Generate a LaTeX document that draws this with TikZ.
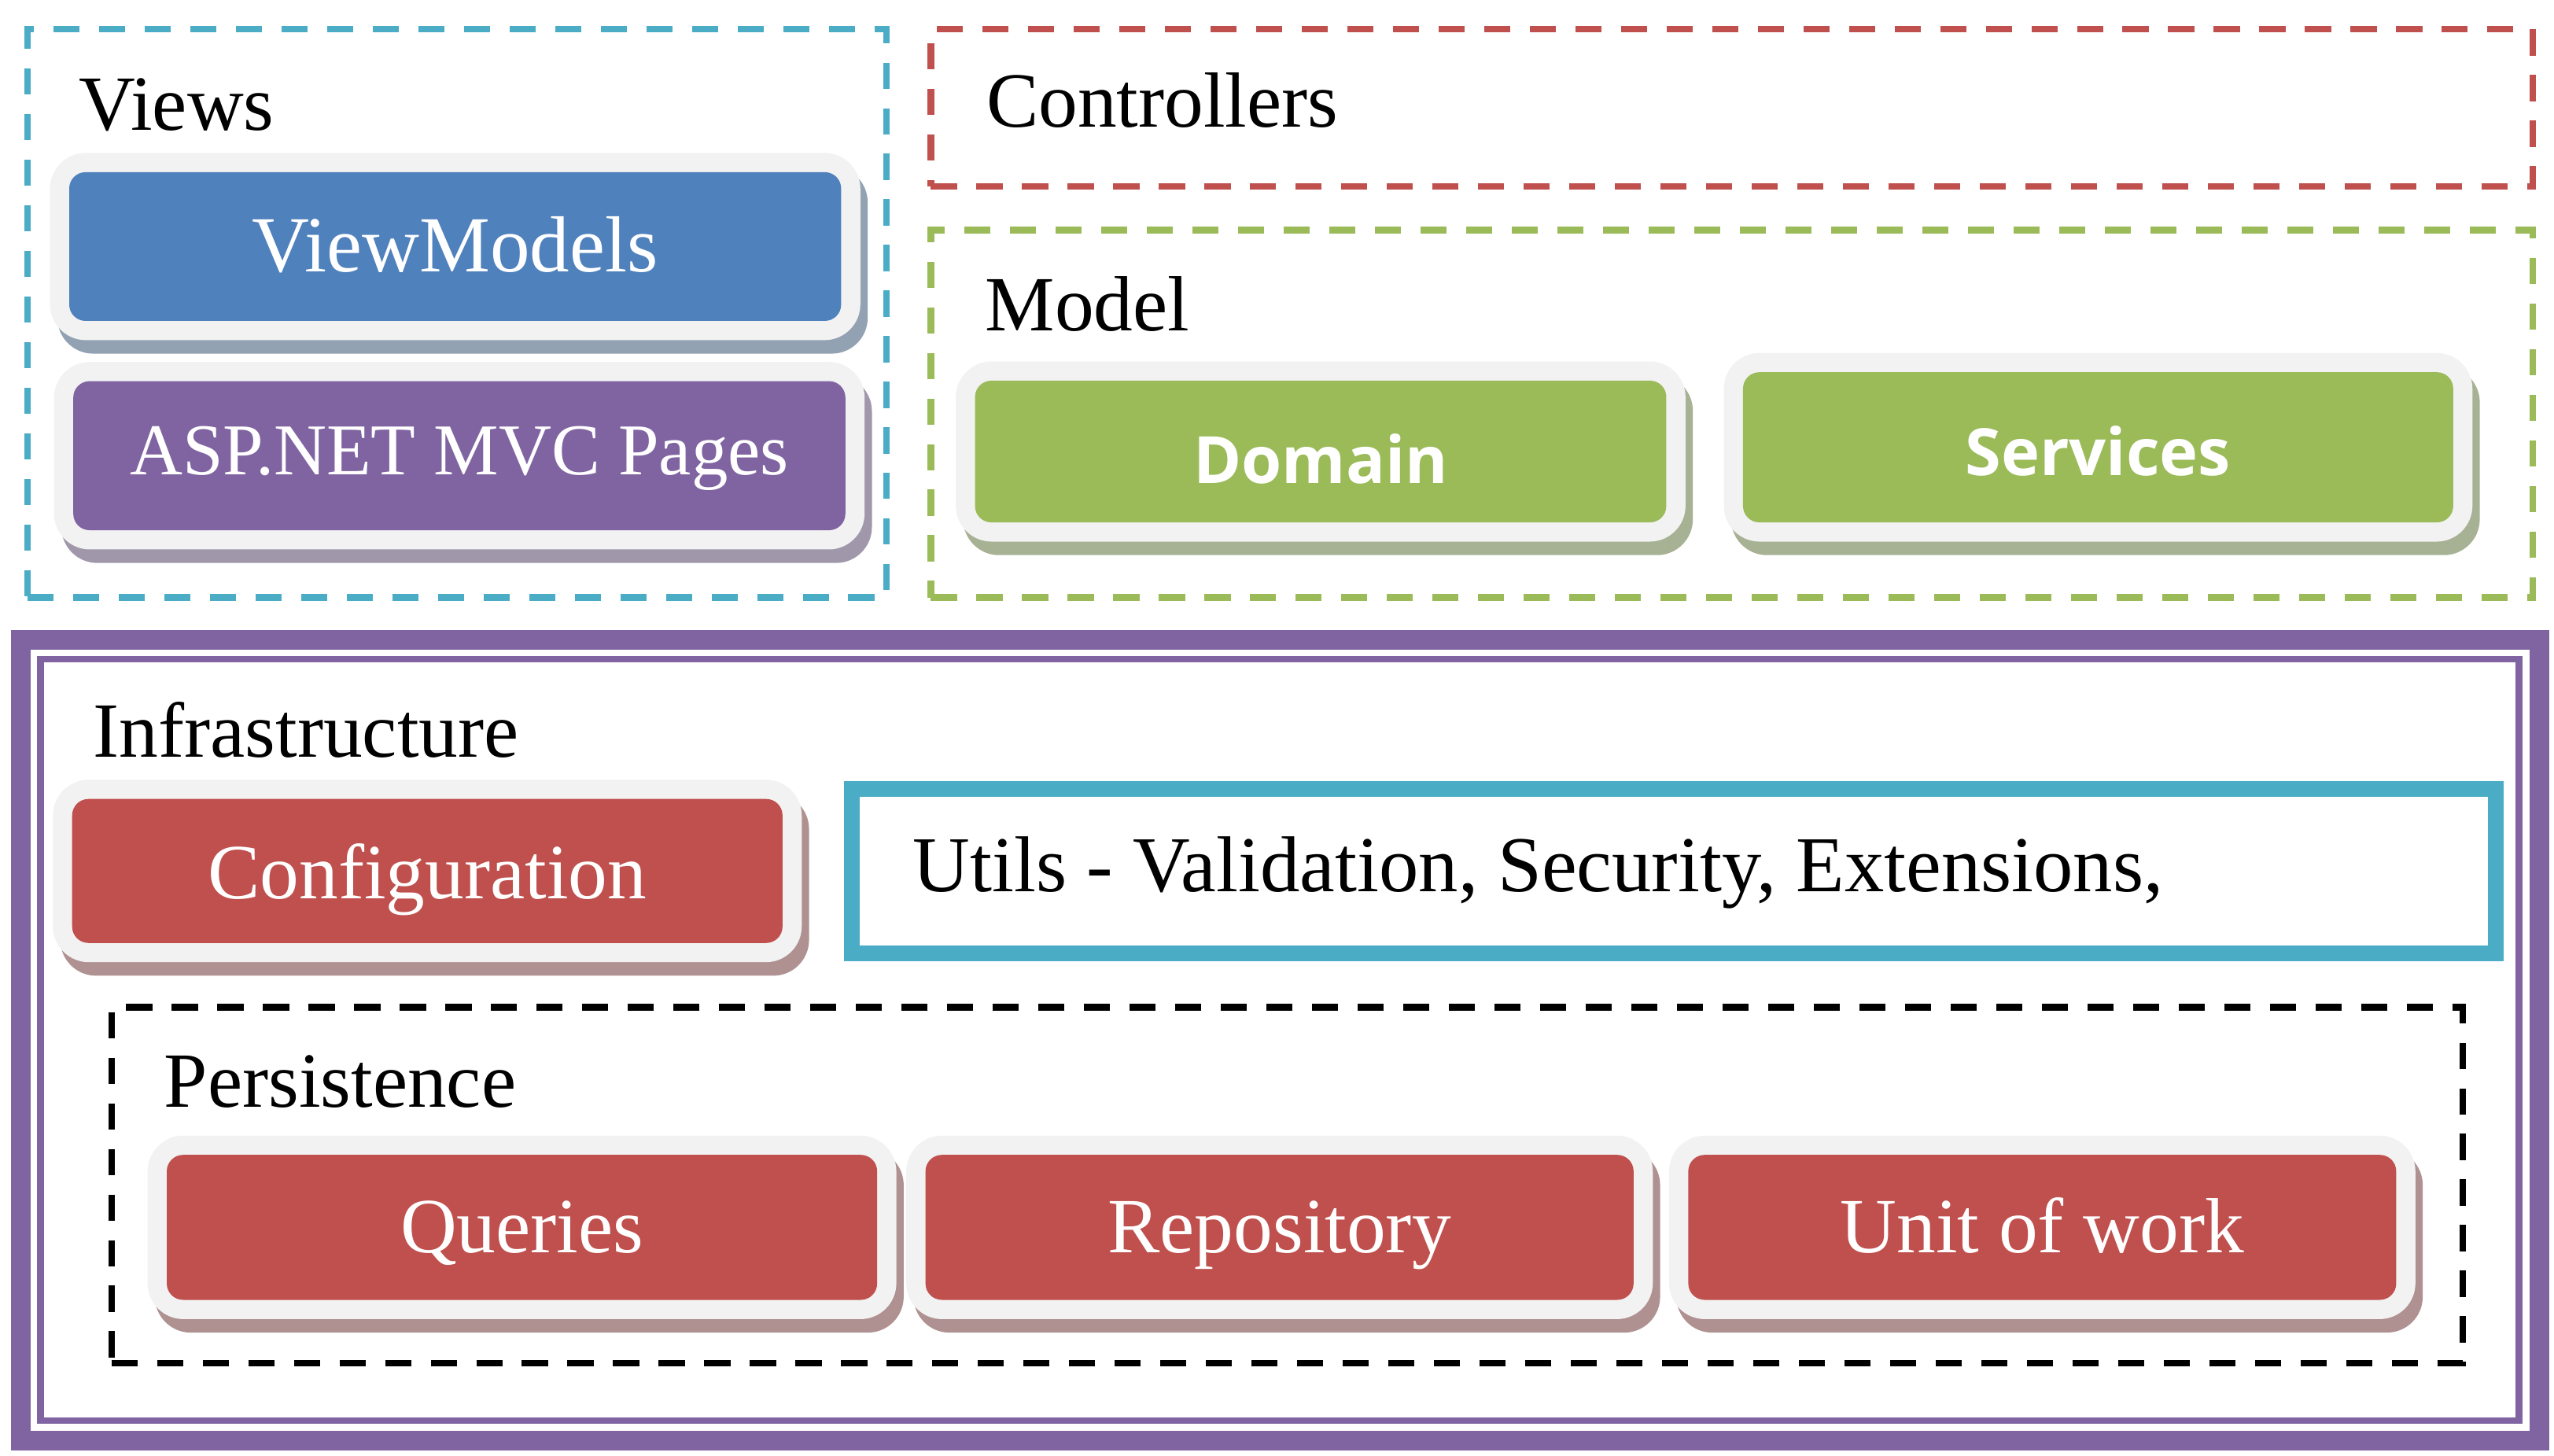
\documentclass[tikz,border=0pt]{standalone}
\usepackage{fontspec}
\setmainfont{Liberation Serif}
\newfontfamily\osans{Open Sans}
\usetikzlibrary{fit,backgrounds}
\definecolor{cyanC}{HTML}{4BACC6}
\definecolor{redC}{HTML}{C0504D}
\definecolor{greenC}{HTML}{9BBB59}
\definecolor{blueC}{HTML}{4F81BD}
\definecolor{purpleC}{HTML}{8064A2}
\definecolor{grayF}{HTML}{F2F2F2}
\definecolor{blueSh}{HTML}{93A2B3}
\definecolor{purpleSh}{HTML}{A097AB}
\definecolor{greenSh}{HTML}{A7B194}
\definecolor{redSh}{HTML}{B09191}
\tikzset{
  lbl/.style={anchor=base west, inner sep=0pt, outer sep=0pt, font=\fontsize{48}{50}\selectfont},
  btxt/.style={anchor=base, inner sep=0pt, outer sep=0pt, text=white, font=\fontsize{48}{50}\selectfont},
  stxt/.style={anchor=base, inner sep=0pt, outer sep=0pt, text=white, font=\osans\bfseries\fontsize{40}{42}\selectfont},
  dashbox/.style={line width=4pt, dash pattern=on 16pt off 12pt},
}
\newcommand{\mkbtn}[7]{%
  \node[fit={(#2,#3) (#4,#5)}, inner sep=0pt, outer sep=0pt, rounded corners=10pt, fill=#6] (#1) {};
  \begin{pgfonlayer}{background}
    \node[fit=(#1), inner sep=11.8pt, rounded corners=22pt, fill=#7, xshift=4.5pt, yshift=-8.3pt] (#1-sh) {};
    \node[fit=(#1), inner sep=11.8pt, rounded corners=22pt, fill=grayF] (#1-fr) {};
  \end{pgfonlayer}}
\begin{document}
\begin{tikzpicture}[x=1pt, y=-1pt]
\begin{pgfonlayer}{background}
  \fill[white] (0,0) rectangle (1568,893.85);
\end{pgfonlayer}
\useasboundingbox (0,0) rectangle (1568,893.85);

% top groups
\node[draw=cyanC, dashbox, fit={(16.8,18) (544.4,366.8)}, inner sep=0pt] (views) {};
\node[draw=redC, dashbox, fit={(571.5,18) (1555,114.6)}, inner sep=0pt] (controllers) {};
\node[draw=greenC, dashbox, fit={(571.5,141.2) (1555,366.8)}, inner sep=0pt] (model) {};

\node[lbl] (views-t) at (48.5,80) {Views};
\node[lbl] (controllers-t) at (605.6,78) {Controllers};
\node[lbl] (model-t) at (605,203) {Model};

\mkbtn{viewmodels}{42.5}{105.7}{516.4}{197}{blueC}{blueSh}
\node[btxt, font=\fontsize{48.8}{50}\selectfont] (viewmodels-t) at (279.5,167) {ViewModels};
\mkbtn{aspnet}{45}{234}{519}{325.5}{purpleC}{purpleSh}
\node[btxt, font=\fontsize{44.8}{46}\selectfont] (aspnet-t) at (282,291.4) {ASP.NET MVC Pages};

\mkbtn{domain}{598.6}{233.7}{1023}{320.7}{greenC}{greenSh}
\node[stxt] (domain-t) at (810.8,296.6) {Domain};
\mkbtn{services}{1070.1}{228.5}{1506.1}{320.7}{greenC}{greenSh}
\node[stxt] (services-t) at (1288,291.8) {Services};

% infrastructure
\node[draw=purpleC, line width=12pt, fit={(12.8,392.8) (1559,884.3)}, inner sep=0pt] (infra-outer) {};
\node[draw=purpleC, line width=4.2pt, fit={(24.8,404.7) (1546.6,872.1)}, inner sep=0pt] (infra) {};
\node[lbl] (infra-t) at (57.3,465) {Infrastructure};

\mkbtn{config}{44.3}{490.5}{480.4}{578.9}{redC}{redSh}
\node[btxt] (config-t) at (262.4,551.5) {Configuration};

\node[draw=cyanC, line width=9.8pt, fit={(522.9,484.5) (1532.2,585.3)}, inner sep=0pt] (utils) {};
\node[lbl, font=\fontsize{48.6}{50}\selectfont] (utils-t) at (560.5,547.2) {Utils - Validation, Security, Extensions,};

\node[draw=black, dashbox, fit={(68.4,618.4) (1511.8,836.7)}, inner sep=0pt] (persist) {};
\node[lbl] (persist-t) at (100.9,679.5) {Persistence};

\mkbtn{queries}{102.4}{709}{538.5}{798}{redC}{redSh}
\node[btxt] (queries-t) at (320.45,769.2) {Queries};
\mkbtn{repo}{568.2}{709}{1002.9}{798}{redC}{redSh}
\node[btxt] (repo-t) at (785.5,769.2) {Repository};
\mkbtn{uow}{1036.5}{709}{1471.1}{798}{redC}{redSh}
\node[btxt] (uow-t) at (1253.8,769.2) {Unit of work};
\end{tikzpicture}
\end{document}
